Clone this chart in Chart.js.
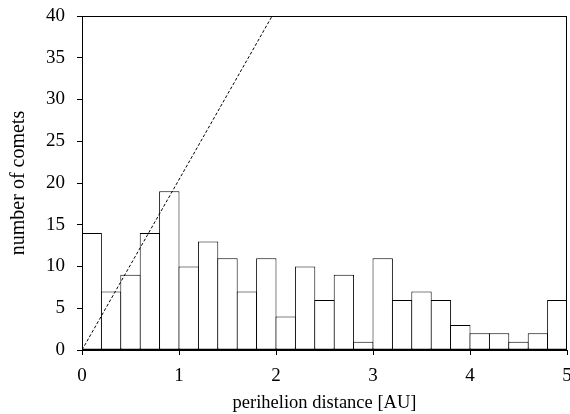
<!DOCTYPE html>
<html>
<head>
<meta charset="utf-8">
<script src="https://cdn.jsdelivr.net/npm/chart.js@4.4.1/dist/chart.umd.min.js"></script>
<style>
  html, body { margin: 0; padding: 0; background: #fff; }
  #wrap { width: 570px; height: 414px; }
</style>
</head>
<body>
<div id="wrap"><canvas id="histChart" width="570" height="414"></canvas></div>
<script>
// histogram of perihelion distances, bins 0.2 AU wide
const binCenters = [0.1, 0.3, 0.5, 0.7, 0.9, 1.1, 1.3, 1.5, 1.7, 1.9, 2.1, 2.3, 2.5,
                    2.7, 2.9, 3.1, 3.3, 3.5, 3.7, 3.9, 4.1, 4.3, 4.5, 4.7, 4.9];
const counts = [14, 7, 9, 14, 19, 10, 13, 11, 7, 11, 4, 10, 6,
                9, 1, 11, 6, 7, 6, 3, 2, 2, 1, 2, 6];
// dashed reference line
const lineX = [0, 1.96];
const lineY = [0, 40];
const xTicks = [0, 1, 2, 3, 4, 5];
const yTicks = [0, 5, 10, 15, 20, 25, 30, 35, 40];

const serif = "'Liberation Serif', 'Times New Roman', serif";

const frame = {
  id: "frame",
  afterDatasetsDraw(chart) {
    const a = chart.chartArea;
    const ctx = chart.ctx;
    ctx.save();
    ctx.strokeStyle = "#000";
    ctx.lineWidth = 1;
    ctx.strokeRect(Math.round(a.left) + 0.5, Math.round(a.top) + 0.5,
                   Math.round(a.right - a.left) - 1, Math.round(a.bottom - a.top) - 1);
    ctx.restore();
  }
};

const ctx = document.getElementById("histChart").getContext("2d");
new Chart(ctx, {
  data: {
    datasets: [
      {
        type: "bar",
        data: binCenters.map((x, i) => ({ x, y: counts[i] })),
        backgroundColor: "#fff",
        borderColor: "#000",
        borderWidth: 1,
        borderSkipped: false,
        // widen a touch so neighbouring outlines overlap into one line
        barPercentage: 1.05,
        categoryPercentage: 1,
        order: 2
      },
      {
        type: "line",
        data: lineX.map((x, i) => ({ x, y: lineY[i] })),
        borderColor: "#000",
        borderWidth: 1,
        borderDash: [3, 2],
        pointRadius: 0,
        fill: false,
        order: 1
      }
    ]
  },
  options: {
    responsive: false,
    animation: false,
    events: [],
    layout: { padding: { top: 16, right: 3, left: 0, bottom: 0 } },
    plugins: { legend: { display: false }, tooltip: { enabled: false } },
    scales: {
      x: {
        type: "linear",
        min: 0,
        max: 5,
        offset: false,
        afterBuildTicks: s => { s.ticks = xTicks.map(v => ({ value: v })); },
        afterFit: s => { s.height = 64; s.paddingLeft = 0; s.paddingRight = 0; },
        grid: { display: true, offset: false, drawOnChartArea: false, tickLength: 5, color: "#000" },
        border: { display: true, color: "#000", width: 1 },
        ticks: { color: "#000", padding: 10, maxRotation: 0, font: { family: serif, size: 19 } },
        title: {
          display: true,
          text: "perihelion distance [AU]",
          color: "#000",
          padding: { top: 0, bottom: 0 },
          font: { family: serif, size: 18.5 }
        }
      },
      y: {
        min: 0,
        max: 40,
        afterBuildTicks: s => { s.ticks = yTicks.map(v => ({ value: v })); },
        afterFit: s => { s.width = 82; s.paddingTop = 0; s.paddingBottom = 0; },
        grid: { display: true, offset: false, drawOnChartArea: false, tickLength: 5, color: "#000" },
        border: { display: true, color: "#000", width: 1 },
        ticks: { color: "#000", padding: 12, font: { family: serif, size: 19 } },
        title: {
          display: true,
          text: "number of comets",
          color: "#000",
          padding: { top: 7, bottom: 0 },
          font: { family: serif, size: 20 }
        }
      }
    }
  },
  plugins: [frame]
});
</script>
</body>
</html>
